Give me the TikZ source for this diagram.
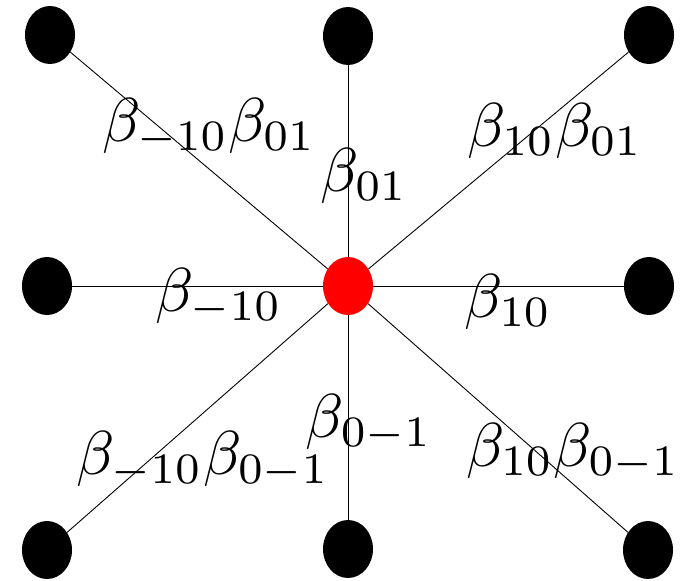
\documentclass[tikz,border=0pt]{standalone}
\usetikzlibrary{shapes.geometric}
\tikzset{
  dot/.style={ellipse, fill=black, draw=none, inner sep=0pt, minimum width=50pt, minimum height=58pt},
  centerdot/.style={dot, fill=red},
  edge/.style={draw=black, line width=0.9pt},
  lab/.style={inner sep=0pt, anchor=north, scale=6.2}
}
\begin{document}
\begin{tikzpicture}[x=1pt,y=-1pt]
\useasboundingbox (0,0) rectangle (684,580);
% nodes
\node[dot] (tl) at (50,35) {};
\node[dot] (tm) at (348,36) {};
\node[dot] (tr) at (649,35) {};
\node[dot] (ml) at (47,286) {};
\node[centerdot] (c) at (348,286) {};
\node[dot] (mr) at (649,286) {};
\node[dot] (bl) at (47,550) {};
\node[dot] (bm) at (348,549) {};
\node[dot] (br) at (648,550) {};
% connectors
\draw[edge] (c) -- (tl);
\draw[edge] (c) -- (tm);
\draw[edge] (c) -- (tr);
\draw[edge] (c) -- (ml);
\draw[edge] (c) -- (mr);
\draw[edge] (c) -- (bl);
\draw[edge] (c) -- (bm);
\draw[edge] (c) -- (br);
% labels
\node[lab] (l1) at (209,97) {$\beta_{-10}\beta_{01}$};
\node[lab] (l2) at (364,147) {$\beta_{01}$};
\node[lab] (l3) at (555,102) {$\beta_{10}\beta_{01}$};
\node[lab] (l4) at (219,267) {$\beta_{-10}$};
\node[lab] (l5) at (508,273) {$\beta_{10}$};
\node[lab] (l6) at (369,393) {$\beta_{0-1}$};
\node[lab] (l7) at (203,430) {$\beta_{-10}\beta_{0-1}$};
\node[lab] (l8) at (573,422) {$\beta_{10}\beta_{0-1}$};
\end{tikzpicture}
\end{document}
